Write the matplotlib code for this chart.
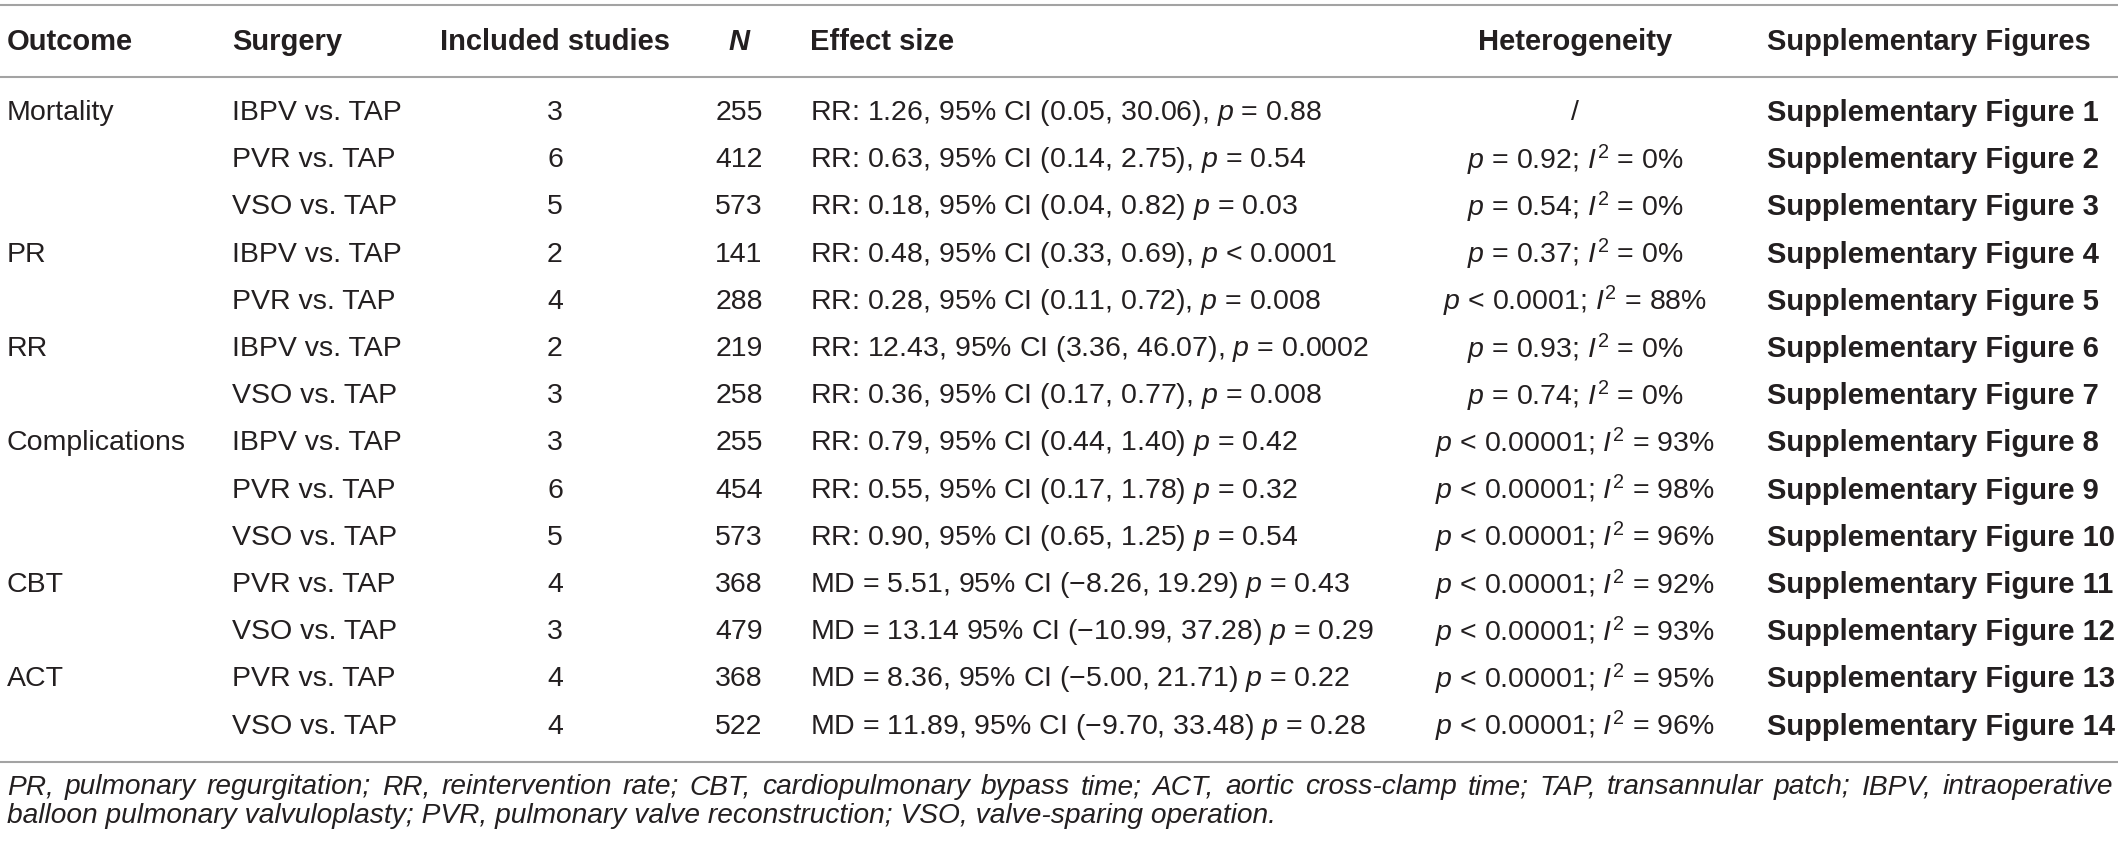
import matplotlib
matplotlib.use("Agg")
import matplotlib.pyplot as plt
from matplotlib import font_manager as fm

headers = ["Outcome", "Surgery", "Included studies", "N", "Effect size",
           "Heterogeneity", "Supplementary Figures"]

outcomes = ["Mortality", "", "", "PR", "", "RR", "", "Complications", "", "", "CBT", "", "ACT", ""]
surgery = ["IBPV vs. TAP", "PVR vs. TAP", "VSO vs. TAP", "IBPV vs. TAP", "PVR vs. TAP",
           "IBPV vs. TAP", "VSO vs. TAP", "IBPV vs. TAP", "PVR vs. TAP", "VSO vs. TAP",
           "PVR vs. TAP", "VSO vs. TAP", "PVR vs. TAP", "VSO vs. TAP"]
studies = [3, 6, 5, 2, 4, 2, 3, 3, 6, 5, 4, 3, 4, 4]
n_total = [255, 412, 573, 141, 288, 219, 258, 255, 454, 573, 368, 479, 368, 522]
effect = [
    r"RR: 1.26, 95% CI (0.05, 30.06), $p$ = 0.88",
    r"RR: 0.63, 95% CI (0.14, 2.75), $p$ = 0.54",
    r"RR: 0.18, 95% CI (0.04, 0.82) $p$ = 0.03",
    r"RR: 0.48, 95% CI (0.33, 0.69), $p$ < 0.0001",
    r"RR: 0.28, 95% CI (0.11, 0.72), $p$ = 0.008",
    r"RR: 12.43, 95% CI (3.36, 46.07), $p$ = 0.0002",
    r"RR: 0.36, 95% CI (0.17, 0.77), $p$ = 0.008",
    r"RR: 0.79, 95% CI (0.44, 1.40) $p$ = 0.42",
    r"RR: 0.55, 95% CI (0.17, 1.78) $p$ = 0.32",
    r"RR: 0.90, 95% CI (0.65, 1.25) $p$ = 0.54",
    "MD = 5.51, 95% CI (\u22128.26, 19.29) $p$ = 0.43",
    "MD = 13.14 95% CI (\u221210.99, 37.28) $p$ = 0.29",
    "MD = 8.36, 95% CI (\u22125.00, 21.71) $p$ = 0.22",
    "MD = 11.89, 95% CI (\u22129.70, 33.48) $p$ = 0.28",
]
het_p = [None, "= 0.92", "= 0.54", "= 0.37", "< 0.0001", "= 0.93", "= 0.74",
         "< 0.00001", "< 0.00001", "< 0.00001", "< 0.00001", "< 0.00001", "< 0.00001", "< 0.00001"]
het_i2 = [None, 0, 0, 0, 88, 0, 0, 93, 98, 96, 92, 93, 95, 96]
supp_fig = list(range(1, 15))

footnote = ("PR, pulmonary regurgitation; RR, reintervention rate; CBT, cardiopulmonary bypass time; "
            "ACT, aortic cross-clamp time; TAP, transannular patch; IBPV, intraoperative "
            "balloon pulmonary valvuloplasty; PVR, pulmonary valve reconstruction; VSO, valve-sparing operation.")

# the body text is a condensed face; use Liberation Sans Narrow if present
try:
    fm.findfont(fm.FontProperties(family='Liberation Sans Narrow'), fallback_to_default=False)
    body_font, fs = 'Liberation Sans Narrow', 23.5
except ValueError:
    body_font, fs = 'Liberation Sans', 20.5
fs_bold = 21

plt.rcParams['font.family'] = [body_font, 'DejaVu Sans']
plt.rcParams['mathtext.fontset'] = 'custom'
plt.rcParams['mathtext.rm'] = body_font
plt.rcParams['mathtext.it'] = body_font + ':italic'
plt.rcParams['mathtext.bf'] = body_font + ':bold'

W, H = 2118, 849
fig = plt.figure(figsize=(W / 100, H / 100), dpi=100)
ax = fig.add_axes([0, 0, 1, 1])
ax.set_xlim(0, W)
ax.set_ylim(H, 0)
ax.axis('off')

txt = '#231f20'
col_x = [7, 232, 555, 739, 810, 1575, 1767]
col_ha = ['left', 'left', 'center', 'center', 'left', 'center', 'left']

for ly in [5, 77, 762]:
    ax.plot([0, W], [ly, ly], color='#a3a3a3', lw=1.5, solid_capstyle='butt')

for h, x, ha in zip(headers, col_x, col_ha):
    ax.text(x, 42, h, ha=ha, va='center', fontsize=fs_bold, fontweight='bold',
            family='Liberation Sans', style='italic' if h == 'N' else 'normal', color=txt)

y0, dy = 113, 47.2
for i in range(len(surgery)):
    y = y0 + i * dy
    ax.text(col_x[0], y, outcomes[i], ha='left', va='center', fontsize=fs, color=txt)
    ax.text(col_x[1], y, surgery[i], ha='left', va='center', fontsize=fs, color=txt)
    ax.text(col_x[2], y, str(studies[i]), ha='center', va='center', fontsize=fs, color=txt)
    ax.text(col_x[3], y, str(n_total[i]), ha='center', va='center', fontsize=fs, color=txt)
    ax.text(col_x[4], y, effect[i], ha='left', va='center', fontsize=fs, color=txt)
    if het_p[i] is None:
        het = "/"
    else:
        het = "$p$ " + het_p[i] + "; $I^2$ = " + str(het_i2[i]) + "%"
    ax.text(col_x[5], y, het, ha='center', va='center', fontsize=fs, color=txt)
    ax.text(col_x[6], y, "Supplementary Figure " + str(supp_fig[i]), ha='left', va='center',
            fontsize=fs_bold, fontweight='bold', family='Liberation Sans', color=txt)

# justified footnote: size the italic text so the first line nearly fills the width
words = footnote.split(" ")
split_at = words.index("intraoperative") + 1
line1, line2 = words[:split_at], words[split_at:]
left, right = 7, W - 5
fig.canvas.draw()
renderer = fig.canvas.get_renderer()
probe = ax.text(0, 0, " ".join(line1), fontsize=10, style='italic')
fs_note = 10 * 0.975 * (right - left) / probe.get_window_extent(renderer).width
probe.remove()

arts, widths = [], []
for w in line1:
    t = ax.text(0, 787, w, ha='left', va='center', fontsize=fs_note, style='italic', color=txt)
    arts.append(t)
    widths.append(t.get_window_extent(renderer).width)
gap = (right - left - sum(widths)) / (len(line1) - 1)
x = left
for t, wd in zip(arts, widths):
    t.set_x(x)
    x += wd + gap
ax.text(left, 816, " ".join(line2), ha='left', va='center', fontsize=fs_note, style='italic', color=txt)

fig.savefig("out.png", dpi=100)
